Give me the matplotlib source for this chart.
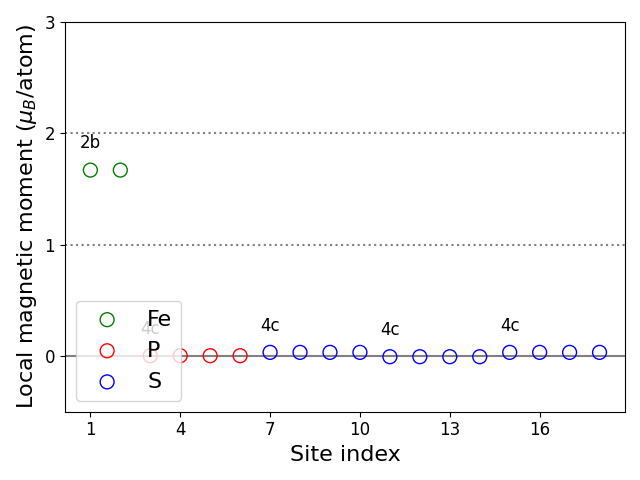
import matplotlib
matplotlib.use("Agg")
import matplotlib.pyplot as plt

fe_sites = [1, 2]
fe_moments = [1.67, 1.67]
p_sites = [3, 4, 5, 6]
p_moments = [0.003, 0.003, 0.003, 0.003]
s_sites = [7, 8, 9, 10, 11, 12, 13, 14, 15, 16, 17, 18]
s_moments = [0.033, 0.033, 0.033, 0.033, -0.006, -0.006, -0.006, -0.006,
             0.033, 0.033, 0.033, 0.033]
wyckoff_sites = [1, 3, 7, 11, 15]
wyckoff_labels = ["2b", "4c", "4c", "4c", "4c"]
wyckoff_values = [1.67, 0.003, 0.033, -0.006, 0.033]
xticks = [1, 4, 7, 10, 13, 16]

fig, ax = plt.subplots(figsize=(6.4, 4.8), dpi=100)
ax.axhline(0, color="gray", lw=1.5, zorder=1)
ax.axhline(1, color="gray", ls=":", lw=1.5, zorder=1)
ax.axhline(2, color="gray", ls=":", lw=1.5, zorder=1)
ax.scatter(fe_sites, fe_moments, s=100, facecolors="none", edgecolors="green", label="Fe", zorder=2)
ax.scatter(p_sites, p_moments, s=100, facecolors="none", edgecolors="red", label="P", zorder=2)
ax.scatter(s_sites, s_moments, s=100, facecolors="none", edgecolors="blue", label="S", zorder=2)
for xs, lab, v in zip(wyckoff_sites, wyckoff_labels, wyckoff_values):
    ax.text(xs, v + 0.24, lab, ha="center", va="center", fontsize=12)
ax.set_ylim(-0.5, 3)
ax.set_yticks([0, 1, 2, 3])
ax.set_xticks(xticks)
ax.tick_params(labelsize=12)
ax.set_xlabel("Site index", fontsize=16)
ax.set_ylabel(r"Local magnetic moment ($\mu_B$/atom)", fontsize=16)
ax.legend(loc="lower left", fontsize=16)
fig.tight_layout()
fig.savefig("out.png")
